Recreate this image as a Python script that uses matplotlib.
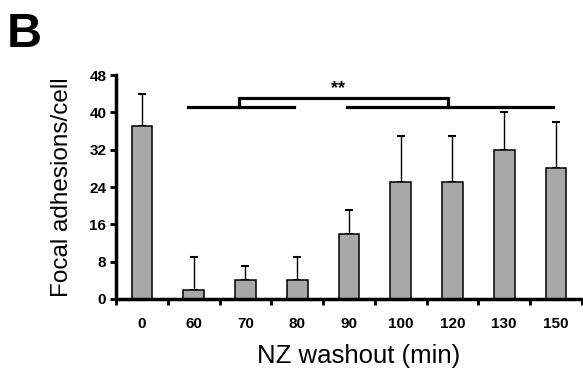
import matplotlib
matplotlib.use("Agg")
import matplotlib.pyplot as plt

# washout times (min) and focal adhesion counts
times = ['0', '60', '70', '80', '90', '100', '120', '130', '150']
means = [37, 2, 4, 4, 14, 25, 25, 32, 28]
err_up = [7, 7, 3, 5, 5, 10, 10, 8, 10]

yticks = [0, 8, 16, 24, 32, 40, 48]

# significance bars: (x_start, x_end, y) in data coords
sig_low_left = (0.9, 2.94, 41.2)
sig_low_right = (3.96, 7.94, 41.2)
sig_bracket = (1.87, 5.92, 43.1)

plt.rcParams['font.family'] = ['Liberation Sans', 'DejaVu Sans']

fig = plt.figure(figsize=(5.83, 3.76), dpi=100)
ax = fig.add_axes([0.199, 0.2048, 0.799, 0.5957])

x = list(range(len(times)))
ax.bar(x, means, width=0.4, color='#a8a8a8', edgecolor='black', linewidth=1.1, zorder=2)
ax.errorbar(x, means, yerr=[[0] * len(means), err_up], fmt='none', ecolor='black',
            elinewidth=1.0, capsize=3, capthick=1.5, zorder=1)

ax.set_xlim(-0.5, 8.5)
ax.set_ylim(0, 48)
ax.set_yticks(yticks)
ax.set_yticklabels([str(v) for v in yticks], fontsize=11, fontweight='bold')
ax.set_xticks([i + 0.5 for i in range(-1, len(times))], minor=False)
ax.set_xticklabels([])
ax.set_xticks(x, minor=True)
ax.set_xticklabels(times, minor=True, fontsize=11, fontweight='bold')
ax.tick_params(axis='x', which='minor', length=0, pad=13)
ax.tick_params(axis='x', which='major', direction='out', length=4, width=2)
ax.tick_params(axis='y', direction='out', length=4, width=2, pad=3)

for side in ['top', 'right']:
    ax.spines[side].set_visible(False)
for side in ['left', 'bottom']:
    ax.spines[side].set_linewidth(2.5)

ax.set_xlabel('NZ washout (min)', fontsize=18.5)
ax.xaxis.set_label_coords(0.521, -0.2)
ax.set_ylabel('Focal adhesions/cell', fontsize=17.5, labelpad=12)

# significance lines
lw = 2.3
ax.plot([sig_low_left[0], sig_low_left[1]], [sig_low_left[2]] * 2, color='black', lw=lw, clip_on=False)
ax.plot([sig_low_right[0], sig_low_right[1]], [sig_low_right[2]] * 2, color='black', lw=lw, clip_on=False)
ax.plot([sig_bracket[0], sig_bracket[0], sig_bracket[1], sig_bracket[1]],
        [sig_low_left[2], sig_bracket[2], sig_bracket[2], sig_low_right[2]],
        color='black', lw=lw, clip_on=False, solid_joinstyle='miter')
ax.text(3.79, sig_bracket[2] + 0.2, '**', ha='center', va='bottom', fontsize=13, fontweight='bold')

fig.text(0.012, 0.875, 'B', fontsize=35, fontweight='bold')

fig.savefig('out.png', dpi=100)
